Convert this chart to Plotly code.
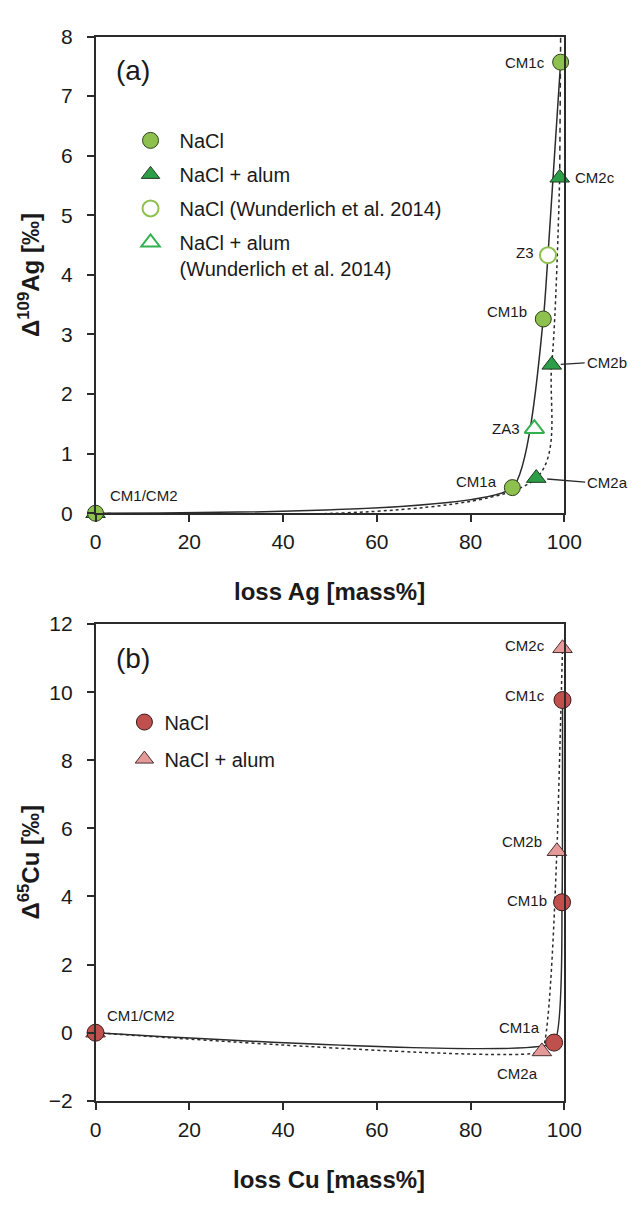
import plotly.graph_objects as go

# ---- Panel (a): silver, Δ109Ag versus loss of Ag ----
ag_nacl_loss = [0.0, 88.9, 95.5, 99.2]
ag_nacl_delta = [0.0, 0.43, 3.26, 7.57]
ag_nacl_ids = ["CM1/CM2", "CM1a", "CM1b", "CM1c"]

ag_alum_loss = [0.0, 94.0, 97.3, 99.0]
ag_alum_delta = [0.0, 0.59, 2.49, 5.63]
ag_alum_ids = ["", "CM2a", "CM2b", "CM2c"]

ag_w_nacl_loss = [96.5]
ag_w_nacl_delta = [4.33]
ag_w_nacl_ids = ["Z3"]

ag_w_alum_loss = [93.6]
ag_w_alum_delta = [1.42]
ag_w_alum_ids = ["ZA3"]

# trend of the alum series continued above its last sample
ag_alum_ext_loss = [99.0, 99.2]
ag_alum_ext_delta = [5.63, 8.0]

# ---- Panel (b): copper, Δ65Cu versus loss of Cu ----
cu_nacl_loss = [0.0, 97.8, 99.5, 99.6]
cu_nacl_delta = [0.0, -0.29, 3.83, 9.77]
cu_nacl_ids = ["CM1/CM2", "CM1a", "CM1b", "CM1c"]

cu_alum_loss = [0.0, 95.2, 98.4, 99.6]
cu_alum_delta = [0.0, -0.55, 5.33, 11.29]
cu_alum_ids = ["", "CM2a", "CM2b", "CM2c"]

ag_ticks_x = [0, 20, 40, 60, 80, 100]
ag_ticks_y = [0, 1, 2, 3, 4, 5, 6, 7, 8]
cu_ticks_y = [-2, 0, 2, 4, 6, 8, 10, 12]

FONT = "Liberation Sans, Arial, sans-serif"
W, H = 644, 1205
LINE = "#2b2b2b"

GREEN_LIGHT = "#8dc04c"
GREEN_DARK = "#2c9e48"
GREEN_OPEN = "#33b04f"
RED = "#c0504d"
PINK = "#e39a98"

fig = go.Figure()


def sorted_pairs(xs, ys):
    pairs = sorted(zip(xs, ys))
    return [p[0] for p in pairs], [p[1] for p in pairs]


def trend(xs, ys, axis, dash, smoothing):
    sx, sy = sorted_pairs(xs, ys)
    fig.add_trace(go.Scatter(x=sx, y=sy, mode="lines",
                             line=dict(color=LINE, width=1.5, dash=dash, shape="spline", smoothing=smoothing),
                             showlegend=False, hoverinfo="skip", xaxis=axis[0], yaxis=axis[1]))


A = ("x", "y")
B = ("x2", "y2")

# ---- trend curves ----
trend(ag_nacl_loss + ag_w_nacl_loss, ag_nacl_delta + ag_w_nacl_delta, A, "solid", 0.45)
trend(ag_alum_loss, ag_alum_delta, A, "dot", 0.85)
fig.add_trace(go.Scatter(x=ag_alum_ext_loss, y=ag_alum_ext_delta, mode="lines",
                         line=dict(color=LINE, width=1.5, dash="5px,4px"),
                         showlegend=False, hoverinfo="skip", xaxis="x", yaxis="y"))
trend(cu_nacl_loss, cu_nacl_delta, B, "solid", 0.3)
trend(cu_alum_loss, cu_alum_delta, B, "dot", 0.2)

# ---- sample markers, panel (a) ----
fig.add_trace(go.Scatter(x=ag_alum_loss, y=ag_alum_delta, mode="markers", name="NaCl + alum",
                         marker=dict(symbol="triangle-up", size=17, color=GREEN_DARK, line=dict(color="#1f3a1f", width=1)),
                         cliponaxis=False, legend="legend", legendgroup="a2", legendrank=2, xaxis="x", yaxis="y"))
fig.add_trace(go.Scatter(x=ag_nacl_loss, y=ag_nacl_delta, mode="markers", name="NaCl",
                         marker=dict(symbol="circle", size=16, color=GREEN_LIGHT, line=dict(color="#2f3f1f", width=1)),
                         cliponaxis=False, legend="legend", legendgroup="a1", legendrank=1, xaxis="x", yaxis="y"))
fig.add_trace(go.Scatter(x=ag_w_nacl_loss, y=ag_w_nacl_delta, mode="markers", name="NaCl (Wunderlich et al. 2014)",
                         marker=dict(symbol="circle", size=16, color="white", line=dict(color=GREEN_LIGHT, width=2)),
                         cliponaxis=False, legend="legend", legendgroup="a3", legendrank=3, xaxis="x", yaxis="y"))
fig.add_trace(go.Scatter(x=ag_w_alum_loss, y=ag_w_alum_delta, mode="markers", name="NaCl + alum<br>(Wunderlich et al. 2014)",
                         marker=dict(symbol="triangle-up", size=17, color="white", line=dict(color=GREEN_OPEN, width=2)),
                         cliponaxis=False, legend="legend", legendgroup="a4", legendrank=4, xaxis="x", yaxis="y"))

# ---- sample markers, panel (b) ----
fig.add_trace(go.Scatter(x=cu_alum_loss, y=cu_alum_delta, mode="markers", name="NaCl + alum",
                         marker=dict(symbol="triangle-up", size=17, color=PINK, line=dict(color="#4a3030", width=1)),
                         cliponaxis=False, legend="legend2", legendgroup="b2", legendrank=2, xaxis="x2", yaxis="y2"))
fig.add_trace(go.Scatter(x=cu_nacl_loss, y=cu_nacl_delta, mode="markers", name="NaCl",
                         marker=dict(symbol="circle", size=17, color=RED, line=dict(color="#3a1a1a", width=1)),
                         cliponaxis=False, legend="legend2", legendgroup="b1", legendrank=1, xaxis="x2", yaxis="y2"))

# ---- axes ----
px_left, px_right = 93, 580
top_y0, top_y1 = 511, 25
bot_y0, bot_y1 = 1110, 624
xdom = [px_left / W, px_right / W]

axis_common = dict(showline=True, linecolor=LINE, linewidth=1.5, mirror=True, ticks="outside",
                   ticklen=7, tickwidth=1.5, tickcolor=LINE, showgrid=False, zeroline=False,
                   tickfont=dict(family=FONT, size=21, color="#1a1a1a"))

fig.update_layout(
    width=W, height=H, margin=dict(l=0, r=0, t=0, b=0),
    paper_bgcolor="white", plot_bgcolor="white",
    xaxis=dict(domain=xdom, range=[0, 100], tickvals=ag_ticks_x, anchor="y", ticklabelstandoff=2, **axis_common),
    yaxis=dict(domain=[1 - top_y0 / H, 1 - top_y1 / H], range=[0, 8], tickvals=ag_ticks_y, anchor="x",
               ticklabelstandoff=10, **axis_common),
    xaxis2=dict(domain=xdom, range=[0, 100], tickvals=ag_ticks_x, anchor="y2", ticklabelstandoff=2, **axis_common),
    yaxis2=dict(domain=[1 - bot_y0 / H, 1 - bot_y1 / H], range=[-2, 12], tickvals=cu_ticks_y, anchor="x2",
                ticklabelstandoff=10,
                ticktext=["\u22122" if v < 0 else str(v) for v in cu_ticks_y], **axis_common),
    legend=dict(x=120 / W, y=1 - 111 / H, xanchor="left", yanchor="top", bgcolor="rgba(0,0,0,0)",
                font=dict(family=FONT, size=20, color="#1a1a1a"), itemwidth=48, tracegroupgap=5,
                valign="top", traceorder="grouped"),
    legend2=dict(x=123 / W, y=1 - 704 / H, xanchor="left", yanchor="top", bgcolor="rgba(0,0,0,0)",
                 font=dict(family=FONT, size=20, color="#1a1a1a"), itemwidth=30, tracegroupgap=8,
                 traceorder="grouped"),
    showlegend=True,
)

ann = []


def paper_text(text, x, y, size, bold=False, angle=0):
    ann.append(dict(text=f"<b>{text}</b>" if bold else text, x=x / W, y=1 - y / H, xref="paper", yref="paper",
                    showarrow=False, textangle=angle, xanchor="center", yanchor="middle",
                    font=dict(family=FONT, size=size, color="#1a1a1a")))


paper_text("(a)", 132, 60, 28)
paper_text("(b)", 132, 659, 28)
paper_text("loss Ag [mass%]", 336, 591, 24, bold=True)
paper_text("loss Cu [mass%]", 336, 1190, 24, bold=True)
paper_text("\u0394<sup>109</sup>Ag [\u2030]", 24, 268, 24, bold=True, angle=-90)
paper_text("\u0394<sup>65</sup>Cu [\u2030]", 24, 867, 24, bold=True, angle=-90)


def label(xs, ys, ids, name, axis, xanchor, xshift, yshift):
    i = ids.index(name)
    ann.append(dict(text=name, x=xs[i], y=ys[i], xref=axis[0], yref=axis[1], showarrow=False,
                    xanchor=xanchor, yanchor="middle", xshift=xshift, yshift=yshift,
                    font=dict(family=FONT, size=15, color="#1a1a1a")))


def leader(xs, ys, ids, name, axis, ax, ay, standoff):
    i = ids.index(name)
    ann.append(dict(text=name, x=xs[i], y=ys[i], xref=axis[0], yref=axis[1], showarrow=True,
                    arrowhead=0, arrowwidth=1.3, arrowcolor=LINE, ax=ax, ay=ay, standoff=standoff,
                    xanchor="left", yanchor="middle",
                    font=dict(family=FONT, size=15, color="#1a1a1a")))


label(ag_nacl_loss, ag_nacl_delta, ag_nacl_ids, "CM1c", A, "right", -14, 0)
label(ag_alum_loss, ag_alum_delta, ag_alum_ids, "CM2c", A, "left", 13, 0)
label(ag_w_nacl_loss, ag_w_nacl_delta, ag_w_nacl_ids, "Z3", A, "right", -12, 3)
label(ag_nacl_loss, ag_nacl_delta, ag_nacl_ids, "CM1b", A, "right", -14, 7)
label(ag_w_alum_loss, ag_w_alum_delta, ag_w_alum_ids, "ZA3", A, "right", -12, 0)
label(ag_nacl_loss, ag_nacl_delta, ag_nacl_ids, "CM1a", A, "right", -13, 6)
label(ag_nacl_loss, ag_nacl_delta, ag_nacl_ids, "CM1/CM2", A, "left", 12, 18)
leader(ag_alum_loss, ag_alum_delta, ag_alum_ids, "CM2b", A, 33, -2, 9)
leader(ag_alum_loss, ag_alum_delta, ag_alum_ids, "CM2a", A, 49, 4, 11)

label(cu_alum_loss, cu_alum_delta, cu_alum_ids, "CM2c", B, "right", -16, 3)
label(cu_nacl_loss, cu_nacl_delta, cu_nacl_ids, "CM1c", B, "right", -16, 5)
label(cu_alum_loss, cu_alum_delta, cu_alum_ids, "CM2b", B, "right", -13, 10)
label(cu_nacl_loss, cu_nacl_delta, cu_nacl_ids, "CM1b", B, "right", -13, 2)
label(cu_nacl_loss, cu_nacl_delta, cu_nacl_ids, "CM1a", B, "right", -12, 15)
label(cu_alum_loss, cu_alum_delta, cu_alum_ids, "CM2a", B, "right", -2, -22)
label(cu_nacl_loss, cu_nacl_delta, cu_nacl_ids, "CM1/CM2", B, "left", 9, 17)

fig.update_layout(annotations=ann)

fig.write_html("out.html")
